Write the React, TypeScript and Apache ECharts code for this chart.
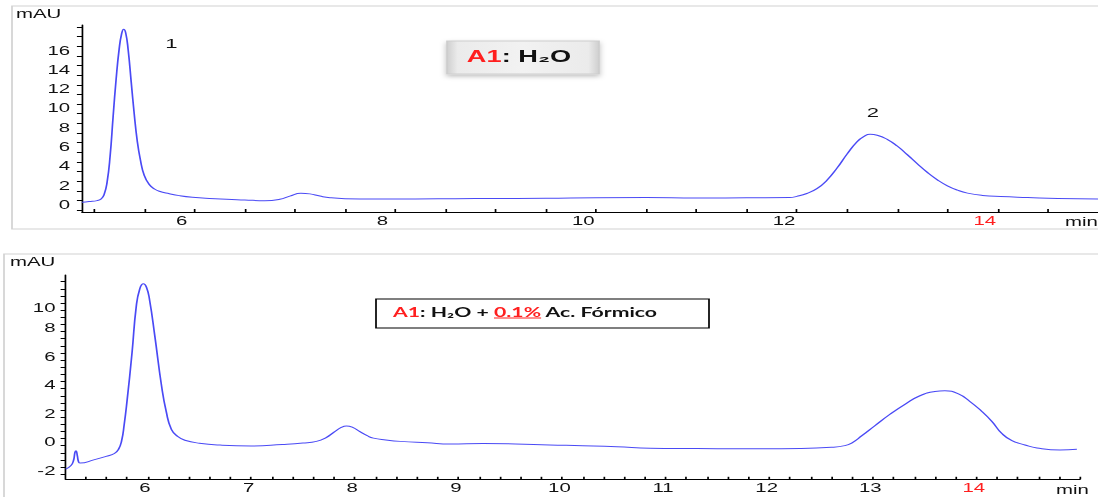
import React, { useEffect, useRef } from "react";
import * as echarts from "echarts";

// horizontal stretch of the whole figure (the reference is a stretched screenshot)
const S = 1.7;
const PAGE_W = 1098;
const PAGE_H = 497;
const W = PAGE_W / S;
const lx = (x: number) => x / S;

// ---------- data : top chromatogram (A1: H2O) ----------
const topTime = [
  4.88, 4.95, 5.03, 5.07, 5.1, 5.13, 5.16, 5.19, 5.22, 5.25, 5.275, 5.295, 5.315, 5.34, 5.37, 5.4, 5.43, 5.46,
  5.5, 5.55, 5.6, 5.65, 5.75, 5.85, 5.98, 6.15, 6.32, 6.5, 6.7, 6.85, 6.95, 7.06, 7.15, 7.25, 7.35, 7.5, 7.8,
  8.2, 8.6, 9.0, 9.5, 10.0, 10.5, 11.0, 11.5, 11.93, 12.0, 12.1, 12.2, 12.3, 12.4, 12.5, 12.6, 12.67, 12.73,
  12.8, 12.9, 13.0, 13.1, 13.2, 13.3, 13.4, 13.5, 13.6, 13.7, 13.85, 14.03, 14.3, 14.6, 15.0,
];
const topSignal = [
  -0.2, -0.12, -0.02, 0.15, 0.6, 1.9, 4.6, 8.7, 12.6, 15.7, 17.3, 17.75, 17.4, 15.6, 12.3, 9.0, 6.2, 4.3,
  2.6, 1.65, 1.2, 0.95, 0.7, 0.5, 0.33, 0.2, 0.12, 0.05, -0.03, 0.12, 0.45, 0.75, 0.68, 0.45, 0.28, 0.18, 0.15,
  0.15, 0.18, 0.2, 0.22, 0.28, 0.3, 0.25, 0.28, 0.3, 0.42, 0.72, 1.22, 2.1, 3.35, 4.8, 6.1, 6.65, 6.86,
  6.77, 6.34, 5.64, 4.75, 3.81, 2.91, 2.14, 1.52, 1.07, 0.76, 0.52, 0.4, 0.3, 0.2, 0.15,
];
const topPeakLabels = ["1", "2"];
const topPeakLabelTime = [5.77, 12.757];
const topPeakLabelValue = [16.3, 9.1];

// ---------- data : bottom chromatogram (A1: H2O + 0.1% Ac. Fórmico) ----------
const bottomTime = [
  5.21, 5.26, 5.285, 5.3, 5.31, 5.322, 5.335, 5.35, 5.48, 5.6, 5.68, 5.72, 5.75, 5.775, 5.8, 5.85, 5.89,
  5.925, 5.96, 5.99, 6.02, 6.07, 6.135, 6.18, 6.23, 6.29, 6.36, 6.5, 6.7, 7.0, 7.3, 7.5, 7.63, 7.72, 7.8,
  7.87, 7.92, 7.98, 8.05, 8.12, 8.18, 8.3, 8.44, 8.7, 8.92, 9.24, 9.55, 9.88, 10.2, 10.53, 10.85, 11.3,
  11.8, 12.3, 12.6, 12.73, 12.8, 12.895, 13.02, 13.166, 13.31, 13.455, 13.6, 13.696, 13.822, 13.937,
  14.053, 14.15, 14.246, 14.343, 14.469, 14.585, 14.807, 14.97,
];
const bottomSignal = [
  -2.15, -1.9, -1.55, -0.95, -0.85, -1.2, -1.65, -1.72, -1.5, -1.25, -1.05, -0.75, -0.15, 1.0, 2.5, 6.0, 9.2,
  10.5, 10.85, 10.6, 9.7, 7.2, 3.7, 1.9, 0.65, 0.15, -0.12, -0.33, -0.46, -0.52, -0.42, -0.32, -0.2, 0.05, 0.45,
  0.78, 0.88, 0.78, 0.48, 0.2, 0.03, -0.1, -0.2, -0.3, -0.38, -0.35, -0.38, -0.45, -0.5, -0.57, -0.68, -0.7,
  -0.72, -0.7, -0.62, -0.5, -0.3, 0.2, 0.9, 1.7, 2.4, 3.0, 3.3, 3.35, 3.15, 2.6,
  1.9, 1.2, 0.35, -0.15, -0.45, -0.66, -0.8, -0.76,
];

// ---------- axes ----------
const topXLabels = [6, 8, 10, 12, 14];
const topYLabels = [0, 2, 4, 6, 8, 10, 12, 14, 16];
const bottomXLabels = [6, 7, 8, 9, 10, 11, 12, 13, 14];
const bottomYLabels = [-2, 0, 2, 4, 6, 8, 10];
const redXLabel = 14;

const range = (a: number, b: number, step: number) => {
  const out: number[] = [];
  const n = Math.round((b - a) / step);
  for (let i = 0; i <= n; i++) out.push(Math.round((a + i * step) * 1000) / 1000);
  return out;
};
const topXTicks = range(5, 15, 0.5);
const topYTicks = range(-1, 18, 1);
const bottomXTicks = range(5.4, 15, 0.2);
const bottomYTicks = range(-2.5, 11, 0.5);

const FONT = "'Liberation Sans', Arial, sans-serif";
const LINE_COLOR = "#4a4af5";
const TXT = "#111";

const measure = (text: string, font: string) => {
  const c = document.createElement("canvas").getContext("2d")!;
  c.font = font;
  return c.measureText(text).width;
};

function buildOption() {
  const pairs = (t: number[], v: number[]) => t.map((x, i) => [x, v[i]]);
  const xLabelFmt = (v: number) => (v === redXLabel ? `{r|${v}}` : `{k|${v}}`);
  const xRich = {
    r: { color: "#ff1f1f", fontSize: 12, fontFamily: FONT },
    k: { color: TXT, fontSize: 12, fontFamily: FONT },
  };

  // bottom legend box text
  const boxFont = "bold 12.5px Lato";
  const boxX = lx(393);
  const boxY = 312;
  const pre = "A1: H₂O + ";
  const ul0 = boxX + measure(pre, boxFont);
  const ul1 = ul0 + measure("0.1%", boxFont);

  const axisLine = { show: true, onZero: false, lineStyle: { color: "#000", width: 1 } };

  return {
    animation: false,
    grid: [
      { left: lx(82), top: 25, width: W - lx(82), height: 187 },
      { left: lx(65.7), top: 275, width: lx(1080) - lx(65.7), height: 204.3 },
    ],
    xAxis: [
      {
        type: "value",
        gridIndex: 0,
        min: 4.88,
        max: 15.0,
        axisLine,
        axisTick: { show: true, inside: true, length: 3, customValues: topXTicks, lineStyle: { color: "#000" } },
        axisLabel: { customValues: topXLabels, formatter: xLabelFmt, rich: xRich, margin: 3, padding: [0, 15, 0, 0] },
        splitLine: { show: false },
      },
      {
        type: "value",
        gridIndex: 1,
        min: 5.21,
        max: 15.0,
        axisLine,
        axisTick: { show: true, inside: true, length: 2.5, customValues: bottomXTicks, lineStyle: { color: "#000" } },
        axisLabel: { customValues: bottomXLabels, formatter: xLabelFmt, rich: xRich, margin: 3, padding: [0, 3, 0, 0] },
        splitLine: { show: false },
      },
    ],
    yAxis: [
      {
        type: "value",
        gridIndex: 0,
        min: -1.2,
        max: 18.2,
        axisLine,
        axisTick: { show: true, inside: false, length: 3, customValues: topYTicks, lineStyle: { color: "#000" } },
        axisLabel: {
          customValues: topYLabels,
          formatter: (v: number) => `{n|${v}}`,
          rich: { n: { color: TXT, fontSize: 12, fontFamily: FONT, padding: [9, 0, 0, 0] } },
          margin: 7,
        },
        splitLine: { show: false },
      },
      {
        type: "value",
        gridIndex: 1,
        min: -2.86,
        max: 11.47,
        axisLine,
        axisTick: { show: true, inside: false, length: 3, customValues: bottomYTicks, lineStyle: { color: "#000" } },
        axisLabel: {
          customValues: bottomYLabels,
          formatter: (v: number) => (v === 10 ? `{d|${v}}` : `{n|${v}}`),
          rich: {
            n: { color: TXT, fontSize: 12, fontFamily: FONT, padding: [8, 0, 0, 0] },
            d: { color: TXT, fontSize: 12, fontFamily: FONT, padding: [24, 0, 0, 0] },
          },
          margin: 6,
        },
        splitLine: { show: false },
      },
    ],
    series: [
      {
        type: "line",
        xAxisIndex: 0,
        yAxisIndex: 0,
        data: pairs(topTime, topSignal),
        showSymbol: false,
        smooth: 0.5,
        lineStyle: { color: LINE_COLOR, width: 1 },
        markPoint: {
          symbol: "circle",
          symbolSize: 0,
          silent: true,
          label: { show: true, position: "inside", formatter: "{b}", color: TXT, fontSize: 13, fontFamily: FONT },
          data: topPeakLabels.map((n, i) => ({ name: n, coord: [topPeakLabelTime[i], topPeakLabelValue[i]] })),
        },
      },
      {
        type: "line",
        xAxisIndex: 1,
        yAxisIndex: 1,
        data: pairs(bottomTime, bottomSignal),
        showSymbol: false,
        smooth: 0.5,
        lineStyle: { color: LINE_COLOR, width: 1 },
      },
    ],
    graphic: [
      // frames
      {
        type: "polyline",
        silent: true,
        shape: { points: [[W + 2, 6], [lx(12), 6], [lx(12), 229], [W + 2, 229]] },
        style: { stroke: "#d2d2d2", lineWidth: 1, fill: null },
      },
      {
        type: "polyline",
        silent: true,
        shape: { points: [[W + 2, 254], [lx(4), 254], [lx(4), PAGE_H + 2]] },
        style: { stroke: "#d2d2d2", lineWidth: 1, fill: null },
      },
      // axis titles
      { type: "text", silent: true, x: lx(16), y: 14, style: { text: "mAU", font: `12px ${FONT}`, fill: TXT, verticalAlign: "middle" } },
      { type: "text", silent: true, x: lx(10), y: 262, style: { text: "mAU", font: `12px ${FONT}`, fill: TXT, verticalAlign: "middle" } },
      { type: "text", silent: true, x: lx(1065), y: 222, style: { text: "min", font: `12px ${FONT}`, fill: TXT, verticalAlign: "middle" } },
      { type: "text", silent: true, x: lx(1056), y: 490, style: { text: "min", font: `12px ${FONT}`, fill: TXT, verticalAlign: "middle" } },
      // top legend box
      {
        type: "rect",
        silent: true,
        shape: { x: lx(447), y: 41, width: lx(599) - lx(447), height: 33 },
        style: {
          fill: new echarts.graphic.LinearGradient(0, 0, 1, 0, [
            { offset: 0, color: "#cfcfcf" },
            { offset: 0.07, color: "#ebebeb" },
            { offset: 0.5, color: "#f2f2f2" },
            { offset: 0.93, color: "#ebebeb" },
            { offset: 1, color: "#cfcfcf" },
          ]),
          stroke: "#cdcdcd",
          lineWidth: 1,
          shadowBlur: 4,
          shadowOffsetY: 2,
          shadowColor: "rgba(0,0,0,0.25)",
        },
      },
      {
        type: "text",
        silent: true,
        x: lx(519),
        y: 57,
        style: {
          text: "{r|A1}{k|: H₂O}",
          align: "center",
          verticalAlign: "middle",
          rich: {
            r: { fill: "#ff1f1f", font: `bold 16px ${FONT}` },
            k: { fill: "#111", font: `bold 16px ${FONT}` },
          },
        },
      },
      // bottom legend box
      {
        type: "rect",
        silent: true,
        shape: { x: lx(376), y: 299, width: lx(709) - lx(376), height: 29 },
        style: { fill: "#fff", stroke: "#000", lineWidth: 1 },
      },
      {
        type: "text",
        silent: true,
        x: boxX,
        y: boxY,
        style: {
          text: "{r|A1}{k|: H₂O + }{r|0.1%}{k| Ac. Fórmico}",
          verticalAlign: "middle",
          rich: {
            r: { fill: "#ff1f1f", font: boxFont },
            k: { fill: "#111", font: boxFont },
          },
        },
      },
      {
        type: "line",
        silent: true,
        shape: { x1: ul0, y1: boxY + 6, x2: ul1, y2: boxY + 6 },
        style: { stroke: "#ff1f1f", lineWidth: 1 },
      },
    ],
  };
}

export default function App() {
  const ref = useRef<HTMLDivElement>(null);
  useEffect(() => {
    if (!ref.current) return;
    const chart = echarts.init(ref.current, null, { renderer: "svg" });
    chart.setOption(buildOption() as any);
    return () => chart.dispose();
  }, []);
  return (
    <div
      ref={ref}
      style={{
        position: "fixed",
        left: 0,
        top: 0,
        width: W,
        height: PAGE_H,
        transform: `scaleX(${S})`,
        transformOrigin: "0 0",
        background: "#fff",
      }}
    />
  );
}
